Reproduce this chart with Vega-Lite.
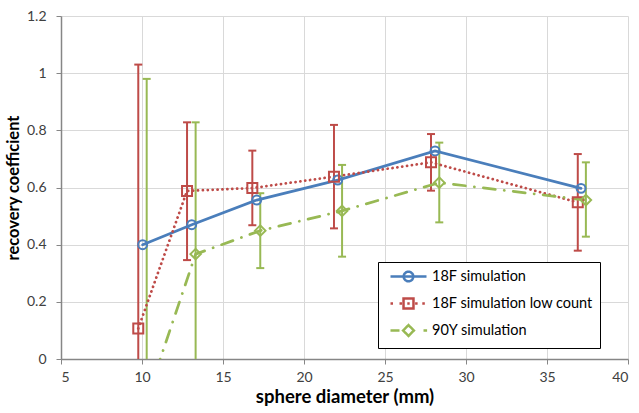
{
  "$schema": "https://vega.github.io/schema/vega-lite/v6.json",
  "width": 567,
  "height": 343,
  "autosize": {"type": "none"},
  "padding": {"left": 61, "top": 16, "right": 11, "bottom": 54},
  "background": "white",
  "config": {
    "view": {"stroke": null},
    "font": "Lato",
    "axis": {
      "labelFont": "Lato",
      "labelFontSize": 14,
      "labelColor": "#404040",
      "titleFont": "Lato",
      "titleFontWeight": "bold",
      "titleColor": "#000000",
      "domainColor": "#868686",
      "domainWidth": 1.5,
      "tickColor": "#868686",
      "tickSize": 5,
      "gridColor": "#D9D9D9",
      "gridWidth": 1
    },
    "legend": {
      "title": null,
      "orient": "none",
      "legendX": 317,
      "legendY": 246,
      "strokeColor": "#000000",
      "fillColor": "white",
      "padding": 7,
      "symbolSize": 144,
      "symbolOffset": 16,
      "symbolStrokeWidth": 2.5,
      "symbolFillColor": "transparent",
      "symbolOpacity": 1,
      "symbolDash": [1, 0],
      "labelFont": "Lato",
      "labelFontSize": 14.5,
      "labelLimit": 240,
      "labelColor": "#000000",
      "labelOffset": 16,
      "rowPadding": 6
    }
  },
  "data": {
    "values": [
      {"series": "18F simulation", "d": 10.04, "rc": 0.40},
      {"series": "18F simulation", "d": 13.07, "rc": 0.47},
      {"series": "18F simulation", "d": 17.08, "rc": 0.556},
      {"series": "18F simulation", "d": 22.08, "rc": 0.626},
      {"series": "18F simulation", "d": 28.09, "rc": 0.728},
      {"series": "18F simulation", "d": 37.1, "rc": 0.597},
      {"series": "18F simulation low count", "d": 9.77, "rc": 0.107, "lo": -0.816, "hi": 1.03},
      {"series": "18F simulation low count", "d": 12.78, "rc": 0.588, "lo": 0.346, "hi": 0.828},
      {"series": "18F simulation low count", "d": 16.81, "rc": 0.598, "lo": 0.468, "hi": 0.729},
      {"series": "18F simulation low count", "d": 21.85, "rc": 0.638, "lo": 0.457, "hi": 0.819},
      {"series": "18F simulation low count", "d": 27.84, "rc": 0.688, "lo": 0.589, "hi": 0.787},
      {"series": "18F simulation low count", "d": 36.9, "rc": 0.548, "lo": 0.379, "hi": 0.717},
      {"series": "90Y simulation", "d": 10.29, "rc": -0.14, "lo": -1.26, "hi": 0.98},
      {"series": "90Y simulation", "d": 13.31, "rc": 0.367, "lo": -0.094, "hi": 0.828},
      {"series": "90Y simulation", "d": 17.3, "rc": 0.449, "lo": 0.318, "hi": 0.58},
      {"series": "90Y simulation", "d": 22.35, "rc": 0.518, "lo": 0.358, "hi": 0.679},
      {"series": "90Y simulation", "d": 28.35, "rc": 0.617, "lo": 0.478, "hi": 0.757},
      {"series": "90Y simulation", "d": 37.4, "rc": 0.556, "lo": 0.428, "hi": 0.688}
    ]
  },
  "encoding": {
    "x": {
      "field": "d",
      "type": "quantitative",
      "scale": {"domain": [5, 40], "nice": false, "zero": false},
      "axis": {
        "title": "sphere diameter (mm)",
        "titleFontSize": 18.5,
        "values": [5, 10, 15, 20, 25, 30, 35, 40],
        "labelPadding": 6,
        "titlePadding": 3
      }
    },
    "y": {
      "field": "rc",
      "type": "quantitative",
      "scale": {"domain": [0, 1.2], "nice": false},
      "axis": {
        "title": "recovery coefficient",
        "titleFontSize": 16.5,
        "format": "~g",
        "values": [0, 0.2, 0.4, 0.6, 0.8, 1, 1.2],
        "labelPadding": 10,
        "titlePadding": 5
      }
    },
    "color": {
      "field": "series",
      "type": "nominal",
      "scale": {
        "domain": ["18F simulation", "18F simulation low count", "90Y simulation"],
        "range": ["#4A7EBB", "#BE4B48", "#98B954"]
      }
    }
  },
  "layer": [
    {
      "transform": [{"filter": "isValid(datum.hi)"}],
      "mark": {"type": "rule", "strokeWidth": 2, "clip": true},
      "encoding": {
        "y": {"field": "lo", "type": "quantitative"},
        "y2": {"field": "hi"}
      }
    },
    {
      "transform": [{"filter": "isValid(datum.hi)"}],
      "mark": {"type": "rule", "strokeWidth": 2, "xOffset": -4, "x2Offset": 4, "clip": true},
      "encoding": {
        "y": {"field": "hi", "type": "quantitative"},
        "x2": {"field": "d"}
      }
    },
    {
      "transform": [{"filter": "isValid(datum.lo)"}],
      "mark": {"type": "rule", "strokeWidth": 2, "xOffset": -4, "x2Offset": 4, "clip": true},
      "encoding": {
        "y": {"field": "lo", "type": "quantitative"},
        "x2": {"field": "d"}
      }
    },
    {
      "transform": [{"filter": "datum.series === '18F simulation'"}],
      "mark": {"type": "line", "strokeWidth": 2.75, "strokeCap": "round", "clip": true},
      "encoding": {}
    },
    {
      "transform": [{"filter": "datum.series === '18F simulation low count'"}],
      "mark": {"type": "line", "strokeWidth": 2.75, "strokeCap": "round", "strokeDash": [0.1, 4.8], "clip": true},
      "encoding": {}
    },
    {
      "transform": [{"filter": "datum.series === '90Y simulation'"}],
      "mark": {"type": "line", "strokeWidth": 2.75, "strokeCap": "round", "strokeDash": [12, 9, 0.1, 9], "clip": true},
      "encoding": {}
    },
    {
      "transform": [{"filter": "datum.series === '18F simulation'"}],
      "mark": {"type": "point", "shape": "circle", "size": 80, "filled": false, "opacity": 1, "strokeWidth": 2, "clip": true},
      "encoding": {}
    },
    {
      "transform": [{"filter": "datum.series === '18F simulation low count'"}],
      "mark": {"type": "point", "shape": "square", "size": 100, "filled": false, "opacity": 1, "strokeWidth": 2, "clip": true},
      "encoding": {}
    },
    {
      "transform": [{"filter": "datum.series === '90Y simulation'"}],
      "mark": {"type": "point", "shape": "diamond", "size": 110, "filled": false, "opacity": 1, "strokeWidth": 2, "clip": true},
      "encoding": {}
    },
    {
      "transform": [{"filter": "false"}],
      "mark": {"type": "point", "filled": false, "opacity": 1, "strokeWidth": 2.5},
      "encoding": {
        "shape": {
          "field": "series",
          "type": "nominal",
          "scale": {
            "domain": ["18F simulation", "18F simulation low count", "90Y simulation"],
            "range": [
              "M-3,0H3M0.8,0A0.8,0.8 0 1 1 -0.8,0A0.8,0.8 0 1 1 0.8,0",
              "M-3,0h0.42M-1.5,0h0.42M-0.2,0h0.4M1.1,0h0.42M2.3,0h0.42M-0.83,-0.83h1.66v1.66h-1.66z",
              "M-3,0H-1.5M-0.9,0L0,-0.9L0.9,0L0,0.9ZM2.5,0H3.1"
            ]
          }
        }
      }
    }
  ]
}
